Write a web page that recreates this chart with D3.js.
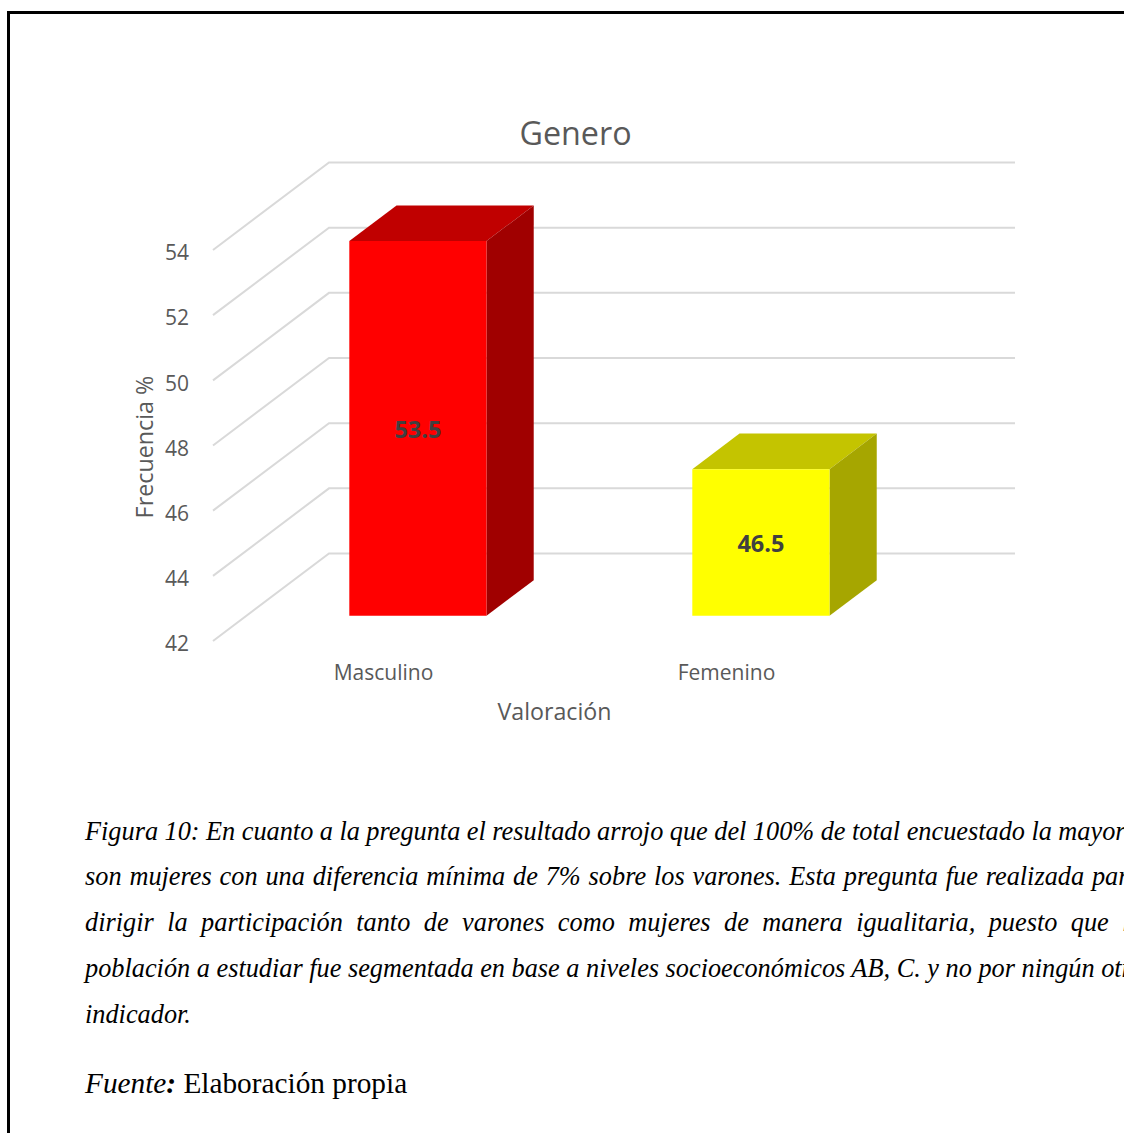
<!DOCTYPE html>
<html>
<head>
	<meta charset="utf-8">
	<title>Genero</title>
	<script src="https://d3js.org/d3.v7.min.js"></script>
	<style>
		html, body { margin: 0; padding: 0; background: #fff; overflow: hidden; }
		svg { display: block; }
	</style>
</head>
<body>
<div id="container"></div>

<script type="text/javascript">

var categories = ["Masculino", "Femenino"];
var values = [53.5, 46.5];
var yTicks = [42, 44, 46, 48, 50, 52, 54];
var captionLines = [
	"Figura 10: En cuanto a la pregunta el resultado arrojo que del 100% de total encuestado la mayoría",
	"son mujeres con una diferencia mínima de 7% sobre los varones. Esta pregunta fue realizada para",
	"dirigir la participación tanto de varones como mujeres de manera igualitaria, puesto que la",
	"población a estudiar fue segmentada en base a niveles socioeconómicos AB, C. y no por ningún otro",
	"indicador."
];

var width = 1124;
var height = 1133;

var svg = d3.select("#container").append("svg").attr("width", width).attr("height", height);

// page frame, runs off the right and bottom edge
svg.append("rect").attr("x", 8.5).attr("y", 12.5).attr("width", 1300).attr("height", 1300)
	.attr("fill", "#fff").attr("stroke", "#000").attr("stroke-width", 3);

var chartFont = "'Open Sans', sans-serif";
var textColor = "#595959";

// y is measured on the back wall, depth 0 = back wall, 1 = front edge of the floor
var y = d3.scaleLinear().domain([42, 54]).range([553.5, 162.5]);
var x = d3.scaleBand().domain(categories).range([329, 1015]);
var depthX = d3.scaleLinear().domain([0, 1]).range([0, -116]);
var depthY = d3.scaleLinear().domain([0, 1]).range([0, 87.5]);

var barShare = 0.4;
var barFront = 0.712;
var barBack = 0.305;

function project(px, value, depth) {
	return [px + depthX(depth), y(value) + depthY(depth)];
}

var line = d3.line();
var polygon = function(points) { return line(points) + "Z"; };

// gridlines: along the side wall, then across the back wall
svg.append("g").selectAll("path")
	.data(yTicks)
	.enter().append("path")
	.attr("fill", "none")
	.attr("stroke", "#d9d9d9")
	.attr("stroke-width", 2)
	.attr("d", function(d) {
		return line([project(329, d, 1), project(329, d, 0), project(1015, d, 0)]);
	});

var fills = d3.scaleOrdinal().domain(categories).range(["#ff0000", "#ffff00"]);
var topFills = d3.scaleOrdinal().domain(categories).range(["#c00000", "#c4c400"]);
var sideFills = d3.scaleOrdinal().domain(categories).range(["#a00000", "#a6a600"]);

var bars = svg.append("g").selectAll("g")
	.data(categories)
	.enter().append("g");

function barEdges(c) {
	var w = x.bandwidth() * barShare;
	var left = x(c) + (x.bandwidth() - w) / 2;
	return { left: left, right: left + w };
}

bars.append("path")
	.attr("fill", function(c) { return topFills(c); })
	.attr("d", function(c, i) {
		var e = barEdges(c);
		return polygon([project(e.left, values[i], barFront), project(e.right, values[i], barFront),
			project(e.right, values[i], barBack), project(e.left, values[i], barBack)]);
	});

bars.append("path")
	.attr("fill", function(c) { return sideFills(c); })
	.attr("d", function(c, i) {
		var e = barEdges(c);
		return polygon([project(e.right, values[i], barFront), project(e.right, values[i], barBack),
			project(e.right, 42, barBack), project(e.right, 42, barFront)]);
	});

bars.append("path")
	.attr("fill", function(c) { return fills(c); })
	.attr("d", function(c, i) {
		var e = barEdges(c);
		return polygon([project(e.left, values[i], barFront), project(e.right, values[i], barFront),
			project(e.right, 42, barFront), project(e.left, 42, barFront)]);
	});

// value labels, centred on the front face
bars.append("text")
	.attr("text-anchor", "middle")
	.attr("dy", "0.36em")
	.attr("font-family", chartFont)
	.attr("font-size", 23.5)
	.attr("font-weight", 700)
	.attr("fill", "#404040")
	.attr("x", function(c, i) {
		var e = barEdges(c);
		return project((e.left + e.right) / 2, values[i], barFront)[0];
	})
	.attr("y", function(c, i) {
		return (project(0, values[i], barFront)[1] + project(0, 42, barFront)[1]) / 2 + 1;
	})
	.text(function(c, i) { return values[i]; });

// value axis sits at the front edge of the side wall
var yFront = y.copy().range(y.range().map(function(r) { return r + depthY(1); }));
var yAxis = svg.append("g")
	.attr("transform", "translate(189,3)")
	.call(d3.axisLeft(yFront).tickValues(yTicks).tickSize(0).tickPadding(0));
yAxis.select(".domain").remove();
yAxis.selectAll("text")
	.attr("font-family", chartFont)
	.attr("font-size", 21)
	.attr("fill", textColor);

// category axis along the front edge of the floor
var xFront = x.copy().range(x.range().map(function(r) { return r + depthX(1); }));
var xAxis = svg.append("g")
	.attr("transform", "translate(-1,665.5)")
	.call(d3.axisBottom(xFront).tickSize(0).tickPadding(0));
xAxis.select(".domain").remove();
xAxis.selectAll("text")
	.attr("font-family", chartFont)
	.attr("font-size", 21)
	.attr("fill", textColor);

svg.append("text").attr("x", 575.5).attr("y", 145)
	.attr("text-anchor", "middle").attr("font-family", chartFont).attr("font-size", 32.3)
	.attr("fill", textColor).text("Genero");

svg.append("text").attr("x", 554.5).attr("y", 720)
	.attr("text-anchor", "middle").attr("font-family", chartFont).attr("font-size", 23.2)
	.attr("fill", textColor).text("Valoración");

svg.append("text")
	.attr("transform", "translate(153,447) rotate(-90)")
	.attr("text-anchor", "middle").attr("font-family", chartFont).attr("font-size", 23.3)
	.attr("fill", textColor).text("Frecuencia %");

// caption, justified lines spread with word spacing
var serif = "'Liberation Serif', serif";
var captionY = [840, 885, 931, 977, 1023];
var captionSpacing = [-0.1, 1.3, 6.9, 0, 0];

svg.append("g").selectAll("text")
	.data(captionLines)
	.enter().append("text")
	.attr("x", 85)
	.attr("y", function(d, i) { return captionY[i]; })
	.attr("font-family", serif)
	.attr("font-size", 26.3)
	.attr("font-style", "italic")
	.attr("fill", "#000")
	.attr("word-spacing", function(d, i) { return captionSpacing[i]; })
	.text(function(d) { return d; });

var source = svg.append("text").attr("x", 85).attr("y", 1093)
	.attr("font-family", serif).attr("font-size", 29.3).attr("fill", "#000");
source.append("tspan").attr("font-style", "italic").text("Fuente");
source.append("tspan").attr("font-style", "italic").attr("font-weight", 700).text(":");
source.append("tspan").text(" Elaboración propia");

</script>
</body>
</html>
